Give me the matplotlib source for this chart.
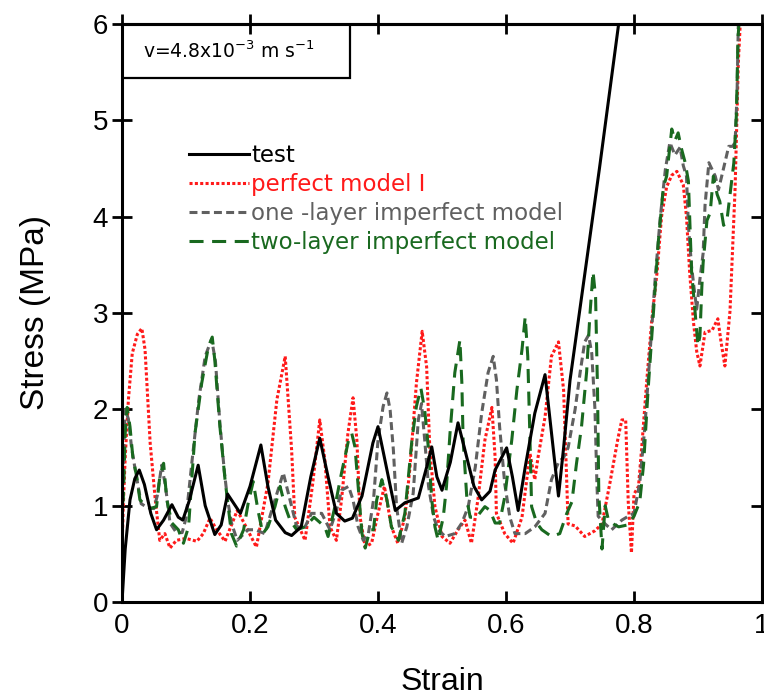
import matplotlib
matplotlib.use("Agg")
import matplotlib.pyplot as plt
from matplotlib.patches import Rectangle

# ---------------- data ----------------
test_strain = [0, 0.005, 0.0125, 0.02, 0.027, 0.035, 0.045, 0.054, 0.065, 0.078, 0.088, 0.095,
               0.105, 0.119, 0.13, 0.145, 0.155, 0.165, 0.175, 0.185, 0.2, 0.217, 0.228, 0.24,
               0.255, 0.265, 0.28, 0.295, 0.309, 0.322, 0.335, 0.348, 0.36, 0.375, 0.392, 0.40,
               0.41, 0.427, 0.442, 0.463, 0.476, 0.484, 0.492, 0.50, 0.513, 0.525, 0.535, 0.55,
               0.562, 0.575, 0.583, 0.601, 0.61, 0.619, 0.63, 0.645, 0.661, 0.672, 0.682, 0.69,
               0.70, 0.723, 0.746, 0.763, 0.776]
test_stress = [0, 0.55, 1.06, 1.28, 1.37, 1.22, 0.92, 0.75, 0.85, 1.01, 0.88, 0.85,
               1.05, 1.42, 1.0, 0.7, 0.8, 1.12, 1.02, 0.92, 1.2, 1.63, 1.2, 0.85,
               0.72, 0.69, 0.78, 1.3, 1.70, 1.3, 0.92, 0.84, 0.87, 1.1, 1.65, 1.82,
               1.5, 0.95, 1.03, 1.08, 1.40, 1.61, 1.3, 1.16, 1.45, 1.86, 1.6, 1.2,
               1.06, 1.15, 1.37, 1.60, 1.3, 0.95, 1.4, 1.96, 2.36, 1.7, 1.10, 1.6,
               2.3, 3.4, 4.5, 5.35, 6.0]

perfect_strain = [0.0, 0.002, 0.005, 0.01, 0.016, 0.024, 0.031, 0.036, 0.044, 0.052, 0.059, 0.067,
                  0.075, 0.085, 0.1, 0.117, 0.127, 0.1375, 0.148, 0.161, 0.18, 0.19, 0.21, 0.228,
                  0.242, 0.255, 0.265, 0.27, 0.286, 0.298, 0.309, 0.317, 0.325, 0.335, 0.343, 0.353,
                  0.361, 0.367, 0.372, 0.38, 0.39, 0.40, 0.41, 0.421, 0.431, 0.442, 0.45, 0.46,
                  0.469, 0.476, 0.481, 0.489, 0.50, 0.5125, 0.525, 0.536, 0.546, 0.556, 0.567, 0.578,
                  0.583, 0.585, 0.598, 0.611, 0.625, 0.6375, 0.645, 0.65, 0.661, 0.671, 0.682, 0.69,
                  0.695, 0.697, 0.708, 0.723, 0.739, 0.75, 0.7625, 0.775, 0.781, 0.787, 0.791, 0.796,
                  0.80, 0.807, 0.812, 0.82, 0.828, 0.836, 0.843, 0.851, 0.859, 0.867, 0.877, 0.882,
                  0.887, 0.893, 0.898, 0.903, 0.911, 0.922, 0.931, 0.936, 0.942, 0.95, 0.958, 0.963,
                  0.966]
perfect_stress = [0.55, 1.0, 1.5, 2.1, 2.58, 2.78, 2.84, 2.62, 1.65, 1.06, 0.64, 0.71,
                  0.56, 0.64, 0.66, 0.63, 0.71, 0.87, 0.75, 0.63, 0.95, 0.83, 0.57, 1.23,
                  2.1, 2.55, 1.58, 0.88, 0.64, 1.23, 1.89, 1.47, 0.78, 0.64, 1.06, 1.75,
                  2.12, 1.68, 0.88, 0.57, 0.61, 0.92, 1.2, 0.78, 0.61, 0.88, 1.4, 2.27,
                  2.81, 2.44, 1.58, 0.99, 0.68, 0.61, 0.75, 0.85, 0.61, 1.06, 1.68, 2.02,
                  1.5, 0.92, 0.71, 0.61, 0.88, 1.54, 1.27, 1.5, 1.92, 2.55, 2.70, 2.2,
                  1.23, 0.81, 0.79, 0.68, 0.74, 0.81, 1.24, 1.70, 1.89, 1.89, 1.04, 0.51,
                  1.12, 1.2, 1.6, 2.3, 2.94, 3.42, 4.0, 4.31, 4.43, 4.47, 4.33, 4.0,
                  3.42, 2.9, 2.6, 2.45, 2.8, 2.82, 2.94, 2.7, 2.45, 3.02, 4.3, 5.6,
                  6.0]

one_layer_strain = [0.0, 0.005, 0.01, 0.015, 0.02, 0.03, 0.04, 0.05, 0.055, 0.062, 0.068, 0.075,
                    0.085, 0.094, 0.1, 0.11, 0.12, 0.13, 0.14, 0.146, 0.153, 0.16, 0.165, 0.171,
                    0.18, 0.197, 0.208, 0.223, 0.239, 0.252, 0.2625, 0.273, 0.286, 0.296, 0.312, 0.325,
                    0.335, 0.343, 0.354, 0.361, 0.369, 0.377, 0.385, 0.393, 0.40, 0.408, 0.414, 0.419,
                    0.424, 0.429, 0.437, 0.445, 0.455, 0.463, 0.468, 0.473, 0.479, 0.487, 0.494, 0.505,
                    0.52, 0.531, 0.541, 0.552, 0.562, 0.572, 0.58, 0.585, 0.59, 0.598, 0.606, 0.614,
                    0.63, 0.645, 0.661, 0.671, 0.682, 0.69, 0.697, 0.708, 0.716, 0.723, 0.729, 0.734,
                    0.739, 0.742, 0.744, 0.755, 0.765, 0.781, 0.791, 0.80, 0.809, 0.817, 0.825, 0.833,
                    0.841, 0.849, 0.856, 0.864, 0.872, 0.877, 0.882, 0.885, 0.89, 0.894, 0.898, 0.903,
                    0.908, 0.911, 0.917, 0.922, 0.927, 0.932, 0.937, 0.942, 0.948, 0.954, 0.958, 0.961,
                    0.963]
one_layer_stress = [1.05, 2.0, 1.9, 1.6, 1.4, 1.02, 0.98, 0.97, 1.1, 1.42, 1.2, 0.82,
                    0.72, 0.72, 0.87, 1.5, 2.1, 2.55, 2.73, 2.5, 1.85, 1.35, 1.06, 0.82,
                    0.64, 0.75, 0.75, 0.71, 1.06, 1.34, 1.06, 0.78, 0.78, 0.92, 0.92, 0.75,
                    0.95, 1.16, 1.2, 1.06, 0.78, 0.64, 0.71, 1.06, 1.68, 2.03, 2.17, 1.99,
                    1.58, 0.99, 0.61, 0.78, 1.13, 1.89, 2.06, 1.68, 1.2, 0.88, 0.75, 0.68,
                    0.71, 0.82, 0.99, 1.40, 1.96, 2.38, 2.55, 2.31, 1.82, 1.23, 0.88, 0.71,
                    0.71, 0.78, 0.92, 1.27, 1.45, 1.5, 1.6, 2.0, 2.39, 2.70, 2.77, 2.58,
                    2.0, 1.24, 0.89, 0.81, 0.75, 0.85, 0.89, 0.92, 1.24, 1.82, 2.58, 3.35,
                    3.99, 4.49, 4.77, 4.64, 4.72, 4.53, 4.42, 3.91, 3.48, 3.25, 3.04, 3.35,
                    3.62, 4.12, 4.56, 4.49, 4.42, 4.28, 4.42, 4.56, 4.73, 4.73, 4.77, 5.27,
                    6.0]

two_layer_strain = [0.0, 0.002, 0.005, 0.008, 0.0125, 0.017, 0.023, 0.028, 0.036, 0.044, 0.054, 0.059,
                    0.065, 0.07, 0.078, 0.088, 0.096, 0.104, 0.114, 0.1245, 0.135, 0.141, 0.145, 0.153,
                    0.161, 0.166, 0.171, 0.179, 0.19, 0.197, 0.205, 0.2125, 0.22, 0.228, 0.239, 0.247,
                    0.255, 0.2625, 0.273, 0.286, 0.30, 0.317, 0.322, 0.333, 0.343, 0.354, 0.359, 0.364,
                    0.369, 0.375, 0.38, 0.3875, 0.393, 0.398, 0.406, 0.414, 0.421, 0.432, 0.442, 0.453,
                    0.46, 0.467, 0.473, 0.479, 0.484, 0.489, 0.494, 0.502, 0.507, 0.5125, 0.52, 0.528,
                    0.531, 0.533, 0.539, 0.544, 0.554, 0.567, 0.575, 0.583, 0.59, 0.598, 0.609, 0.617,
                    0.625, 0.63, 0.634, 0.6375, 0.64, 0.648, 0.656, 0.671, 0.684, 0.695, 0.703, 0.71,
                    0.718, 0.726, 0.731, 0.736, 0.74, 0.743, 0.745, 0.75, 0.755, 0.76, 0.768, 0.776,
                    0.79, 0.80, 0.809, 0.815, 0.822, 0.83, 0.838, 0.846, 0.851, 0.859, 0.864, 0.869,
                    0.874, 0.88, 0.885, 0.8875, 0.89, 0.894, 0.897, 0.9, 0.903, 0.906, 0.908, 0.914,
                    0.919, 0.924, 0.93, 0.934, 0.94, 0.945, 0.95, 0.956, 0.96, 0.9625, 0.964]
two_layer_stress = [1.0, 1.06, 1.75, 2.02, 1.82, 1.5, 1.3, 1.06, 1.01, 0.97, 0.99, 1.30,
                    1.44, 1.06, 0.82, 0.75, 0.61, 0.78, 1.75, 2.27, 2.65, 2.75, 2.51, 1.82,
                    1.27, 0.99, 0.71, 0.58, 0.75, 1.02, 1.25, 0.95, 0.71, 0.78, 0.99, 1.2,
                    0.99, 0.85, 0.75, 0.78, 0.88, 0.78, 0.68, 1.0, 1.34, 1.68, 1.75, 1.61,
                    1.20, 0.71, 0.56, 0.75, 0.75, 1.06, 1.27, 1.06, 0.78, 0.64, 0.92, 1.68,
                    2.03, 2.22, 1.99, 1.58, 1.06, 0.78, 0.64, 0.88, 1.20, 1.75, 2.38, 2.72,
                    2.28, 1.68, 1.06, 0.88, 0.88, 0.99, 0.95, 0.82, 0.82, 1.09, 1.68, 2.2,
                    2.62, 2.96, 2.55, 1.68, 0.99, 0.82, 0.75, 0.68, 0.71, 0.92, 1.04, 1.43,
                    1.82, 2.39, 2.97, 3.43, 3.16, 2.2, 1.12, 0.55, 1.0, 0.85, 0.81, 0.78,
                    0.8, 0.89, 1.04, 1.43, 2.2, 2.97, 3.74, 4.31, 4.42, 4.91, 4.79, 4.87,
                    4.71, 4.56, 4.37, 3.89, 3.43, 3.12, 2.89, 2.66, 2.76, 3.27, 3.52, 3.96,
                    4.04, 4.42, 4.23, 4.16, 3.91, 3.95, 4.23, 4.56, 5.06, 5.85, 6.0]

x_ticks = [0, 0.2, 0.4, 0.6, 0.8, 1]
x_ticklabels = ["0", "0.2", "0.4", "0.6", "0.8", "1"]
y_ticks = [0, 1, 2, 3, 4, 5, 6]
labels = ["test", "perfect model I", "one -layer imperfect model", "two-layer imperfect model"]

# ---------------- figure ----------------
narrow = ["Liberation Sans Narrow", "Liberation Sans", "DejaVu Sans"]
gothic = ["DejaVu Sans"]

fig = plt.figure(figsize=(7.64, 6.97), dpi=100)
ax = fig.add_axes([122 / 764, 95 / 697, 640 / 764, 578 / 697])

RED = "#ff1a1a"
GRAY = "#606060"
GREEN = "#19691f"

l_red, = ax.plot(perfect_strain, perfect_stress, color=RED, lw=2.2, label=labels[1])
l_red.set_dashes([1.0, 0.75])
l_gray, = ax.plot(one_layer_strain, one_layer_stress, color=GRAY, lw=2.2, label=labels[2])
l_gray.set_dashes([2.6, 1.4])
l_green, = ax.plot(two_layer_strain, two_layer_stress, color=GREEN, lw=2.2, label=labels[3])
l_green.set_dashes([4.6, 2.8])
l_test, = ax.plot(test_strain, test_stress, color="black", lw=2.2, label=labels[0])

ax.set_xlim(0, 1)
ax.set_ylim(0, 6)
ax.set_xticks(x_ticks)
ax.set_xticklabels(x_ticklabels)
ax.set_yticks(y_ticks)

for s in ax.spines.values():
    s.set_linewidth(2.2)

ax.tick_params(axis="y", which="major", left=True, right=False, direction="inout",
               length=14, width=2.0, pad=3)
ax.tick_params(axis="x", which="major", bottom=True, top=False, direction="in",
               length=8, width=2.0, pad=8)
for lab in ax.get_xticklabels() + ax.get_yticklabels():
    lab.set_fontfamily(narrow)
    lab.set_fontsize(20)

# secondary ticks on top (inout) and right (in)
axt = ax.secondary_xaxis("top")
axt.set_xticks(x_ticks)
axt.tick_params(direction="inout", length=14, width=2.0, labeltop=False)
axt.spines["top"].set_linewidth(2.2)
axr = ax.secondary_yaxis("right")
axr.set_yticks(y_ticks)
axr.tick_params(direction="in", length=8, width=2.0, labelright=False)
axr.spines["right"].set_linewidth(2.2)

ax.set_xlabel("Strain", fontfamily=narrow, fontsize=23, labelpad=20)
ax.set_ylabel("Stress (MPa)", fontfamily=narrow, fontsize=24, labelpad=30)

# annotation box
box = Rectangle((0, 0.9066), 0.356, 0.0934, transform=ax.transAxes, fill=False,
                edgecolor="black", lw=1.6, zorder=5)
ax.add_patch(box)
ax.text(0.033, 0.952, r"v=4.8x10$^{\mathregular{-3}}$ m s$^{\mathregular{-1}}$", transform=ax.transAxes,
        fontfamily=gothic, fontsize=13.5, va="center", ha="left", zorder=6)

leg = ax.legend(handles=[l_test, l_red, l_gray, l_green], loc="upper left",
                bbox_to_anchor=(0.105, 0.793), frameon=False, prop={"family": gothic, "size": 16.5},
                handlelength=2.6, handletextpad=0.1, labelspacing=0.26, borderpad=0, borderaxespad=0,
                labelcolor="linecolor")

fig.savefig("out.png", dpi=100)
